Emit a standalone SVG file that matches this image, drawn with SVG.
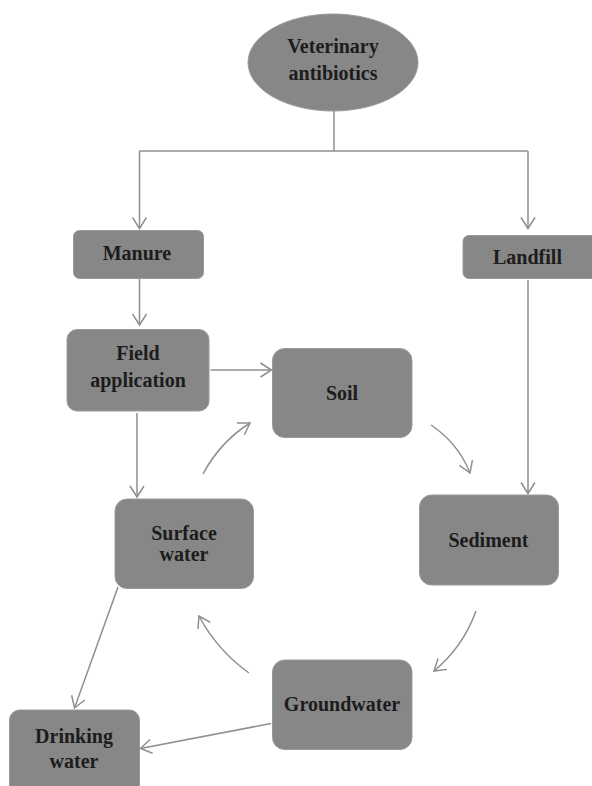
<svg xmlns="http://www.w3.org/2000/svg" width="592" height="786" viewBox="0 0 592 786">
<defs>
<style>
.node{fill:#878787;stroke:#9a9a9a;stroke-width:1}
.lbl{font-family:"Liberation Serif","Times New Roman",serif;font-weight:bold;font-size:20px;fill:#1c1c1c;text-anchor:middle}
.c{fill:none;stroke:#8f8f8f;stroke-width:1.5}
</style>
<marker id="ah" markerUnits="userSpaceOnUse" markerWidth="14" markerHeight="16" refX="12" refY="8" orient="auto" viewBox="0 0 14 16">
<path d="M1,1 L12,8 L1,15" fill="none" stroke="#8f8f8f" stroke-width="1.5"/>
</marker>
</defs>
<rect width="592" height="786" fill="#ffffff"/>
<g id="connectors">
<path class="c" d="M334,111 V151"/>
<path class="c" d="M139.5,151 H528" />
<path class="c" d="M139.5,151 V228.5" marker-end="url(#ah)"/>
<path class="c" d="M528,151 V228.5" marker-end="url(#ah)"/>
<path class="c" d="M139.5,279 V325" marker-end="url(#ah)"/>
<path class="c" d="M528,280 V493.5" marker-end="url(#ah)"/>
<path class="c" d="M210.5,370 H271.5" marker-end="url(#ah)"/>
<path class="c" d="M137,413 V497" marker-end="url(#ah)"/>
<path class="c" d="M203,474 Q220,442 250,423" marker-end="url(#ah)"/>
<path class="c" d="M431,425 Q458,443 470,473" marker-end="url(#ah)"/>
<path class="c" d="M476,611 Q463,647 434,671" marker-end="url(#ah)"/>
<path class="c" d="M249,673 Q217,650 199,616" marker-end="url(#ah)"/>
<path class="c" d="M118,587 L74.5,708" marker-end="url(#ah)"/>
<path class="c" d="M271,723.5 L140.5,748.5" marker-end="url(#ah)"/>
</g>
<g id="vet">
<ellipse class="node" cx="333" cy="62.5" rx="85" ry="48.5"/>
<text class="lbl" x="333" y="53">Veterinary</text>
<text class="lbl" x="333" y="80">antibiotics</text>
</g>
<g id="manure">
<rect class="node" x="73.5" y="230.5" width="130" height="48" rx="6"/>
<text class="lbl" x="137" y="259.5">Manure</text>
</g>
<g id="landfill">
<rect class="node" x="463" y="235.5" width="135" height="43" rx="6"/>
<text class="lbl" x="527.5" y="264">Landfill</text>
</g>
<g id="field">
<rect class="node" x="67" y="329.5" width="142" height="81.5" rx="10"/>
<text class="lbl" x="138" y="359.5">Field</text>
<text class="lbl" x="138" y="387">application</text>
</g>
<g id="soil">
<rect class="node" x="272.5" y="348.5" width="139.5" height="89" rx="12"/>
<text class="lbl" x="342" y="400">Soil</text>
</g>
<g id="surface">
<rect class="node" x="115" y="499" width="138.5" height="89.5" rx="12"/>
<text class="lbl" x="184" y="540">Surface</text>
<text class="lbl" x="184" y="561">water</text>
</g>
<g id="sediment">
<rect class="node" x="419.5" y="495" width="139" height="90" rx="12"/>
<text class="lbl" x="488.5" y="547">Sediment</text>
</g>
<g id="groundwater">
<rect class="node" x="272.5" y="660" width="139.5" height="89.5" rx="12"/>
<text class="lbl" x="342" y="711">Groundwater</text>
</g>
<g id="drinking">
<rect class="node" x="9.5" y="710" width="130" height="90" rx="10"/>
<text class="lbl" x="74" y="743">Drinking</text>
<text class="lbl" x="74" y="767.5">water</text>
</g>
</svg>
